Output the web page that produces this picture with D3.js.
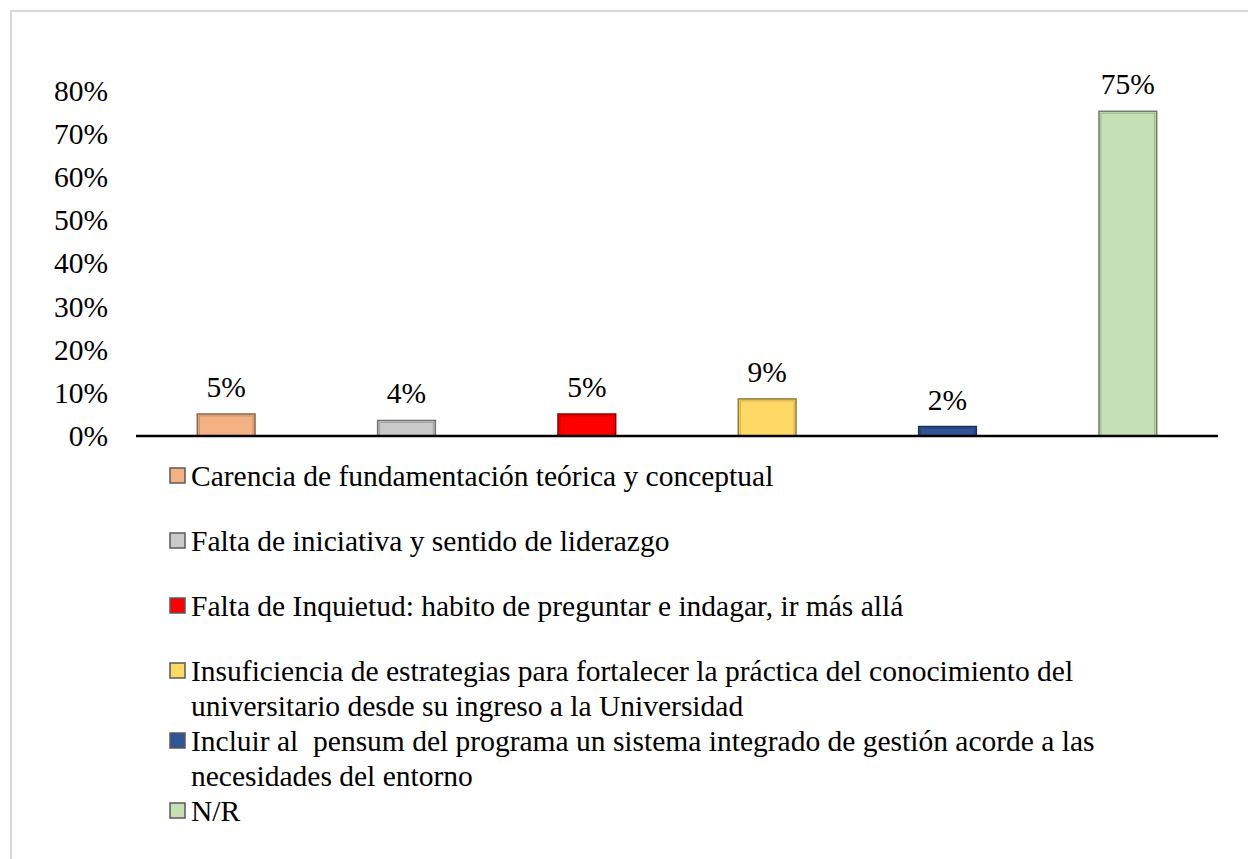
<!DOCTYPE html>
<html>
<head>
<meta charset="utf-8">
<script src="https://cdn.jsdelivr.net/npm/d3@7"></script>
<style>
  body { margin: 0; background: #fff; }
</style>
</head>
<body>
<svg></svg>
<script>
// categories (legend entries), one line per array item where the label wraps
const categories = [
    ["Carencia de fundamentación teórica y conceptual"],
    ["Falta de iniciativa y sentido de liderazgo"],
    ["Falta de Inquietud: habito de preguntar e indagar, ir más allá"],
    ["Insuficiencia de estrategias para fortalecer la práctica del conocimiento del",
     "universitario desde su ingreso a la Universidad"],
    ["Incluir al  pensum del programa un sistema integrado de gestión acorde a las",
     "necesidades del entorno"],
    ["N/R"]
];
const values = [0.051, 0.036, 0.051, 0.086, 0.022, 0.753];
const colors = ["#F4B183", "#C9C9C9", "#FF0000", "#FFD966", "#2F5597", "#C5E0B4"];
const yTicks = [0, 0.1, 0.2, 0.3, 0.4, 0.5, 0.6, 0.7, 0.8];

const svgWidth = 1248, svgHeight = 859;
const fontSize = 29.5;
const serif = "'Liberation Serif', 'Times New Roman', 'DejaVu Serif', serif";

const data = categories.map(function(c, i) {
    return { name: c.join(" "), lines: c, value: values[i], color: colors[i] };
});

const svg = d3.select("svg")
    .attr("width", svgWidth)
    .attr("height", svgHeight)
    .style("font-family", serif);

// chart area border
svg.append("rect")
    .attr("x", 11)
    .attr("y", 11)
    .attr("width", svgWidth)
    .attr("height", svgHeight)
    .attr("fill", "none")
    .attr("stroke", "#d9d9d9")
    .attr("stroke-width", 2);

const x = d3.scaleBand()
    .domain(data.map(function(d) { return d.name; }))
    .range([136, 1218])
    .paddingInner(0.68)
    .paddingOuter(0.34);

const y = d3.scaleLinear()
    .domain([0, 0.8])
    .range([436, 91]);

// y tick labels only (no axis line, no ticks)
const yAxis = svg.append("g")
    .attr("transform", "translate(108,0)")
    .call(d3.axisLeft(y).tickValues(yTicks).tickFormat(d3.format(".0%")).tickSize(0).tickPadding(0));
yAxis.select(".domain").remove();
yAxis.selectAll("text")
    .style("font-family", serif)
    .style("font-size", fontSize + "px")
    .attr("fill", "#000");

// bars: darker outer edge with a lighter inner line
const bars = svg.append("g").selectAll("g")
    .data(data)
    .join("g");

bars.append("rect")
    .attr("x", function(d) { return x(d.name); })
    .attr("y", function(d) { return y(d.value); })
    .attr("width", x.bandwidth())
    .attr("height", function(d) { return y(0) - y(d.value); })
    .attr("fill", function(d) { return d.color; })
    .attr("stroke", function(d) { return d3.color(d.color).darker(1.6); })
    .attr("stroke-width", 1.5);

bars.append("rect")
    .attr("x", function(d) { return x(d.name) + 2; })
    .attr("y", function(d) { return y(d.value) + 2; })
    .attr("width", x.bandwidth() - 4)
    .attr("height", function(d) { return Math.max(0, y(0) - y(d.value) - 2); })
    .attr("fill", "none")
    .attr("stroke", function(d) { return d3.color(d.color).darker(0.6); })
    .attr("stroke-width", 1);

// data labels
bars.append("text")
    .attr("x", function(d) { return x(d.name) + x.bandwidth() / 2; })
    .attr("y", function(d) { return y(d.value) - 17; })
    .attr("text-anchor", "middle")
    .style("font-family", serif)
    .style("font-size", fontSize + "px")
    .attr("fill", "#000")
    .text(function(d) { return d3.format(".0%")(d.value); });

// category axis line
svg.append("line")
    .attr("x1", 136)
    .attr("x2", 1218)
    .attr("y1", y(0))
    .attr("y2", y(0))
    .attr("stroke", "#000")
    .attr("stroke-width", 2.5);

// legend
const legend = svg.append("g").attr("transform", "translate(170,0)");
let ly = 476;
data.forEach(function(d) {
    const item = legend.append("g").attr("transform", "translate(0," + ly + ")");
    item.append("rect")
        .attr("x", 0)
        .attr("y", -8)
        .attr("width", 15)
        .attr("height", 15)
        .attr("fill", d.color)
        .attr("stroke", "#595959")
        .attr("stroke-width", 1.5);
    item.append("text")
        .attr("x", 21)
        .style("font-family", serif)
        .style("font-size", fontSize + "px")
        .style("white-space", "pre")
        .attr("fill", "#000")
        .selectAll("tspan")
        .data(d.lines)
        .join("tspan")
        .attr("x", 21)
        .attr("y", function(l, i) { return i * 35; })
        .attr("dy", "0.35em")
        .text(function(l) { return l; });
    ly += Math.max(65, d.lines.length * 35);
});
</script>
</body>
</html>
